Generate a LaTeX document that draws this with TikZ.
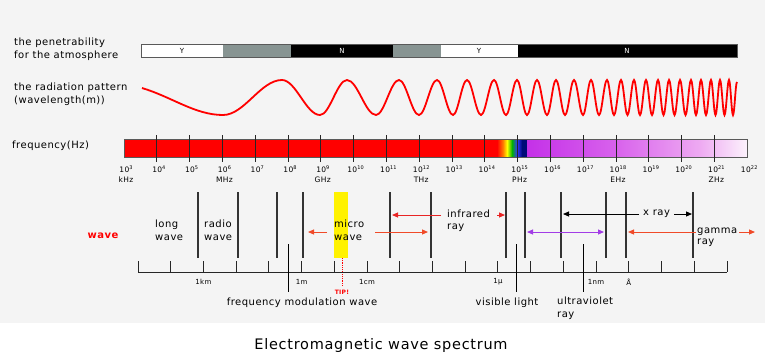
\documentclass[tikz,border=0pt]{standalone}
\usepackage{fontspec}
\setmainfont{DejaVu Sans}[LetterSpace=5]
\usepackage{xcolor}
\usepackage{tikz}
\usetikzlibrary{arrows.meta}

\definecolor{bggray}{HTML}{F4F4F4}
\definecolor{airgray}{HTML}{879492}
\definecolor{warmred}{HTML}{F04A28}
\definecolor{irred}{HTML}{E82424}
\definecolor{uvarrow}{HTML}{A23CE6}
\definecolor{uvA}{HTML}{C431E8}
\definecolor{uvB}{HTML}{D862EC}
\definecolor{uvC}{HTML}{EEAAF2}
\definecolor{uvD}{HTML}{FCF2FC}
\definecolor{navy}{HTML}{000A78}

\newcommand{\pw}[1]{10\raisebox{.6ex}{\fontsize{5}{5}\selectfont #1}}

\begin{document}
\begin{tikzpicture}[
  x=1pt, y=-1pt,
  every node/.style={font=\fontsize{10}{12.5}\selectfont, inner sep=0pt},
  label/.style={align=left, anchor=west},
  small/.style={font=\fontsize{7.5}{8}\selectfont},
  scalelbl/.style={font=\fontsize{7}{8}\selectfont},
  band/.style={draw=black!65, line width=0.7pt},
  tick/.style={draw=black!85, line width=0.9pt},
  divider/.style={draw=black!80, line width=1.3pt},
  pointer/.style={draw=black, line width=0.8pt},
  wave/.style={draw=red, line width=1.8pt},
  tip/.style={-{Triangle[length=6pt,width=5pt]}, line width=1pt},
  both/.style={{Triangle[length=6pt,width=5pt]}-{Triangle[length=6pt,width=5pt]}, line width=1pt},
]
\fill[bggray] (0,0) rectangle (765,323);
\useasboundingbox (0,0) rectangle (765,362);

% row titles
\node[label] (pen) at (14,49) {the penetrability\\for the atmosphere};
\node[label] (pat) at (14,94) {the radiation pattern\\(wavelength(m))};
\node[label] (freq) at (12,146) {frequency(Hz)};

% penetrability bar
\foreach \a/\b/\c in {141/223/white, 223/291/airgray, 291/393/black,
                      393/441/airgray, 441/518/white, 518/737/black}
  \fill[\c] (\a,44) rectangle (\b,57);
\draw[band] (141,44) rectangle (737,57);
\node[scalelbl] (y1) at (182,50.5) {Y};
\node[scalelbl, white] (n1) at (342,50.5) {N};
\node[scalelbl] (y2) at (479,50.5) {Y};
\node[scalelbl, white] (n2) at (627,50.5) {N};

% radiation pattern
\draw[wave] (142,88) .. controls (172,97) and (195,115) .. (223,115)
  \foreach \x/\y [remember=\x as \lx (initially 223), remember=\y as \ly (initially 115)] in
  {282/80, 320/115, 347/80, 376/115, 399/80, 419/115, 437/80, 453/115,
   467/80, 481/115, 494/80, 506/115, 517/80, 527/115, 537/80, 547/115,
   556/80, 565/115, 574/80, 583/115, 591/80, 599/115, 607/80, 614/115,
   621/80, 627.5/115, 634/80, 640/115, 646/80, 652/115, 658/80, 663.5/115,
   669/80, 674.5/115, 680/80, 685.5/115, 691/80, 696/115, 701/80, 706/115,
   711/80, 715.5/115, 720/80, 724.5/115, 729/80, 733/115, 737/82}
  { .. controls ({\lx+0.364*(\x-\lx)},\ly) and ({\x-0.364*(\x-\lx)},\y) .. (\x,\y) };

% frequency bar
\fill[red] (124,139) rectangle (497,157);
\shade[left color=red, right color=orange] (497,139) rectangle (503,157);
\shade[left color=orange, right color=yellow] (503,139) rectangle (507,157);
\shade[left color=yellow, right color=green!70!black] (507,139) rectangle (512,157);
\shade[left color=green!70!black, right color=blue!80] (512,139) rectangle (517,157);
\shade[left color=blue!80, right color=navy] (517,139) rectangle (522,157);
\fill[navy] (522,139) rectangle (527,157);
\shade[left color=uvA, right color=uvB] (527,139) rectangle (616,157);
\shade[left color=uvB, right color=uvC] (616,139) rectangle (700,157);
\shade[left color=uvC, right color=uvD] (700,139) rectangle (747,157);
\draw[band] (124,139) rectangle (747,157);
\foreach \e in {4,...,21}
  \draw[tick] ({124+32.8*(\e-3)},135) -- ++(0,27);
\foreach \e in {3,...,22}
  \node[small] (f\e) at ({126+32.8*(\e-3)},169) {\pw{\e}};
\foreach \e/\u in {3/kHz, 6/MHz, 9/GHz, 12/THz, 15/PHz, 18/EHz, 21/ZHz}
  \node[small] (u\e) at ({126+32.8*(\e-3)},180) {\u};

% wave bands
\node[font=\fontsize{10}{12}\selectfont\bfseries, text=red] (wave) at (103,236) {wave};
\fill[yellow] (334,192) rectangle (348,258);
\foreach \x in {198,238,277,303,390,431,506,525,561,606,626,693}
  \draw[divider] (\x,192) -- (\x,258);
\draw[red, densely dotted, line width=0.8pt] (342,258) -- (342,286);
\node[font=\fontsize{6}{7}\selectfont\bfseries, text=red] (tipmark) at (342,292) {TIP!};

% wavelength scale
\draw[tick] (138,272) -- (727,272);
\foreach \i in {0,...,18}
  \draw[tick] ({138+32.72*\i},261) -- ++(0,11);
\foreach \i/\t in {2/1km, 5/1m, 7/1cm, 11/1\textmu, 14/1nm, 15/Å}
  \node[scalelbl] (s\i) at ({138+32.72*\i},282) {\t};

% band names
\node[label] (long) at (155,230.5) {long\\wave};
\node[label] (radio) at (204,230.5) {radio\\wave};
\node[label] (micro) at (334,230.5) {micro\\wave};
\node[label] (infra) at (447,220.5) {infrared\\ray};
\node[label] (xray) at (643,214) {x ray};
\node[label, font=\fontsize{10}{11}\selectfont] (gamma) at (697,237.5) {gamma\\ray};
\node[label] (ultra) at (557,308) {ultraviolet\\ray};
\node (fm) at (302,303) {frequency modulation wave};
\node (vis) at (507,303) {visible light};
\draw[pointer] (288,244) -- (288,292);
\draw[pointer] (516,244) -- (516,292);
\draw[pointer] (583,244) -- (583,292);

% range arrows
\draw[tip, warmred] (327,232) -- (308,232);
\draw[tip, warmred] (375,232) -- (428,232);
\draw[tip, irred] (441,215) -- (392,215);
\draw[tip, irred] (497,215) -- (505,215);
\draw[tip, black] (639,214) -- (563,214);
\draw[tip, black] (674,214) -- (692,214);
\draw[both, uvarrow] (527,232) -- (604,232);
\draw[tip, warmred] (696,232) -- (628,232);
\draw[tip, warmred] (739,232) -- (755,232);

% caption
\node[font=\fontsize{14.5}{16}\selectfont] (title) at (381,345) {Electromagnetic wave spectrum};
\end{tikzpicture}
\end{document}
